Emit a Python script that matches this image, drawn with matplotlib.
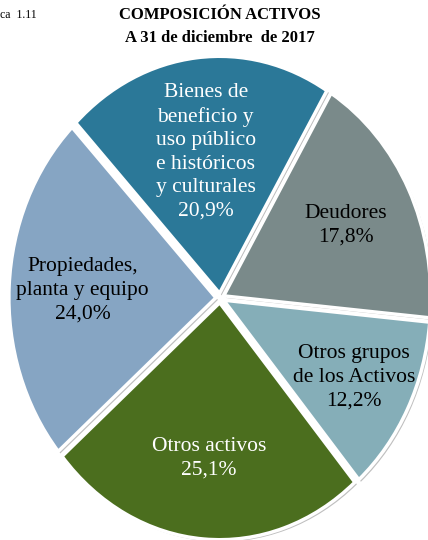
import numpy as np
import matplotlib
matplotlib.use("Agg")
import matplotlib.pyplot as plt
import matplotlib.patheffects as pe

categories = ["Bienes de\nbeneficio y\nuso público\ne históricos\ny culturales",
              "Deudores", "Otros grupos\nde los Activos", "Otros activos",
              "Propiedades,\nplanta y equipo"]
values = [20.9, 17.8, 12.2, 25.1, 24.0]
colors = ["#2B7898", "#7A8A8A", "#85AEB8", "#4B6E1E", "#86A5C3"]
text_colors = ["white", "black", "black", "white", "black"]
label_r = [0.60, 0.66, 0.71, 0.66, 0.645]

plt.rcParams['font.family'] = ['Liberation Serif', 'DejaVu Serif']

W, H = 428, 540
fig = plt.figure(figsize=(W/100, H/100), dpi=100)
ax = fig.add_axes([0, 0, 1, 1])
explode = [0.02] * len(values)
wedges, _ = ax.pie(values, colors=colors, startangle=134, counterclock=False,
                   explode=explode,
                   wedgeprops=dict(edgecolor="white", linewidth=2.5))
for w in wedges:
    w.set_path_effects([pe.SimplePatchShadow(offset=(1.5, -1.5), shadow_rgbFace='#808080', alpha=0.5),
                        pe.Normal()])
ax.set_aspect('auto')
cx, cy, rx, ry = 220, 298, 207, 237
ax.set_xlim(-cx/rx, (W-cx)/rx)
ax.set_ylim(-(H-cy)/ry, cy/ry)
ax.axis('off')

for w, lab, v, tc, r, ex in zip(wedges, categories, values, text_colors, label_r, explode):
    th = np.deg2rad((w.theta1 + w.theta2)/2)
    x = (r + ex) * np.cos(th)
    y = (r + ex) * np.sin(th)
    txt = lab + "\n" + f"{v:.1f}%".replace(".", ",")
    ax.text(x, y, txt, ha='center', va='center', color=tc, fontsize=15.5,
            linespacing=1.32)

fig.text(220/W, 1-15/H, "COMPOSICIÓN ACTIVOS", ha='center', va='center',
         fontsize=12, fontweight='bold')
fig.text(220/W, 1-38/H, "A 31 de diciembre  de 2017", ha='center', va='center',
         fontsize=12, fontweight='bold')
fig.text(0/W, 1-15/H, "ca  1.11", ha='left', va='center', fontsize=8.5)

fig.savefig("out.png", dpi=100)
